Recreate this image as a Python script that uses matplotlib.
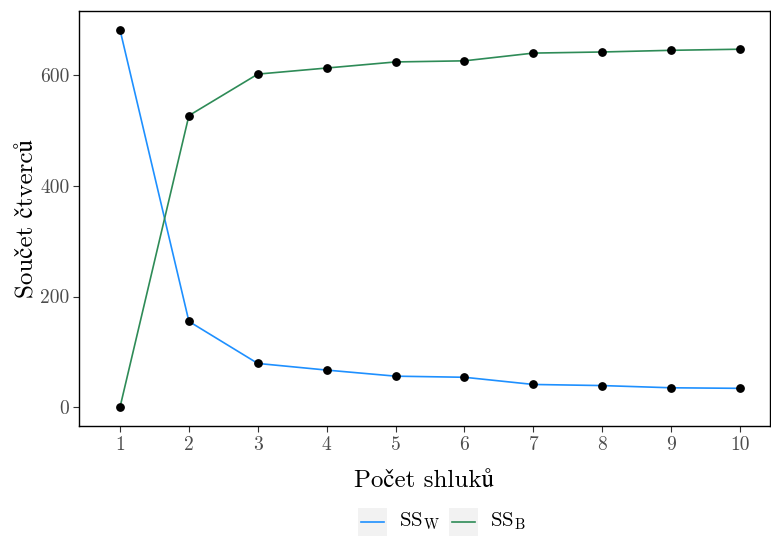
import matplotlib
matplotlib.use('Agg')
import matplotlib.pyplot as plt
import matplotlib.patches as mpatches
from matplotlib.lines import Line2D

# data
clusters = [1, 2, 3, 4, 5, 6, 7, 8, 9, 10]
ss_within = [682, 155, 79, 67, 56, 54, 41, 39, 35, 34]
ss_between = [0, 527, 602, 613, 624, 626, 640, 642, 645, 647]
y_ticks = [0, 200, 400, 600]

BLUE = "#1E90FF"
GREEN = "#2E8B57"
GREY_TXT = "#4D4D4D"

plt.rcParams['font.family'] = ['cmr10', 'STIXGeneral']
plt.rcParams['mathtext.fontset'] = 'cm'
plt.rcParams['axes.formatter.use_mathtext'] = True

fig = plt.figure(figsize=(7.71, 5.36), dpi=100)
ax = fig.add_axes([0.1025, 0.2052, 0.8962, 0.7743])

ax.plot(clusters, ss_within, color=BLUE, lw=1.2, zorder=2)
ax.plot(clusters, ss_between, color=GREEN, lw=1.2, zorder=2)
ax.scatter(clusters, ss_within, s=28, color="black", zorder=3)
ax.scatter(clusters, ss_between, s=28, color="black", zorder=3)

ymax = max(max(ss_within), max(ss_between))
pad = 0.05 * ymax
ax.set_ylim(-pad, ymax + pad)
ax.set_xlim(0.405, 10.435)
ax.set_xticks(clusters)
ax.set_xticklabels([str(c) for c in clusters])
ax.set_yticks(y_ticks)
ax.set_yticklabels([str(t) for t in y_ticks])
ax.tick_params(axis='both', labelsize=14, colors="#333333", labelcolor=GREY_TXT,
               length=4, width=0.8, pad=3)

for sp in ax.spines.values():
    sp.set_linewidth(1.0)
    sp.set_color("black")

ax.set_xlabel("Počet shluků", fontsize=18, labelpad=12)
ax.set_ylabel("Součet čtverců", fontsize=18, labelpad=1)

# legend below the panel, ggplot style with grey key boxes
W, H = 771.0, 536.0
keys = [(358, BLUE, r"$\mathrm{SS}_\mathrm{W}$"), (449, GREEN, r"$\mathrm{SS}_\mathrm{B}$")]
for x0, col, lab in keys:
    fig.patches.append(mpatches.Rectangle((x0 / W, 1 - 536 / H), 29 / W, 28.5 / H,
                                          transform=fig.transFigure, facecolor="#F2F2F2",
                                          edgecolor="none"))
    fig.lines.append(Line2D([(x0 + 3) / W, (x0 + 26) / W], [1 - 521.5 / H] * 2,
                            transform=fig.transFigure, color=col, lw=1.2))
    fig.text((x0 + 41) / W, 1 - 521.5 / H, lab, fontsize=15, va="center", ha="left")

fig.savefig("out.png", dpi=100, facecolor="white")
